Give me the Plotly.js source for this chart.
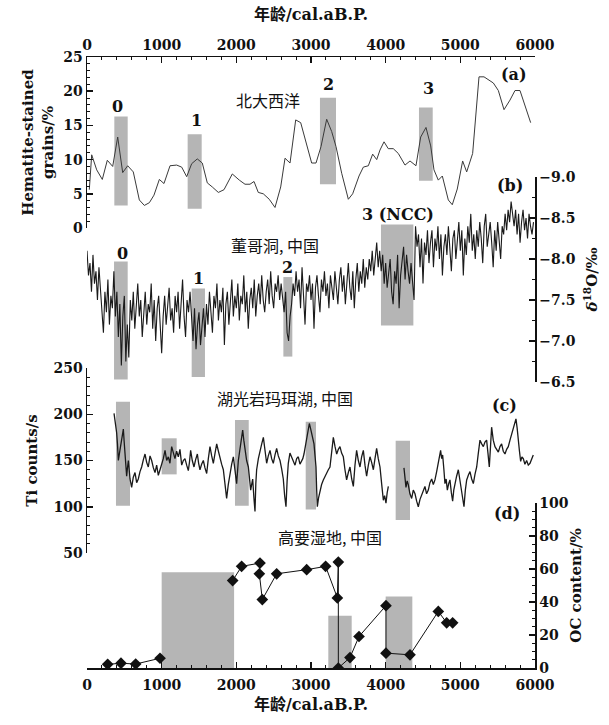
<!DOCTYPE html>
<html><head><meta charset="utf-8">
<script src="https://cdn.plot.ly/plotly-3.0.1.min.js"></script>
<style>html,body{margin:0;padding:0;background:#fff;}#chart{width:609px;height:725px;}</style>
</head><body><div id="chart"></div>
<script>
// ---------- DATA ----------
// (a) North Atlantic hematite-stained grains (%)
const a_age = [31,63,130,205,272,344,411,478,545,620,701,768,835,897,969,1031,1112,1201,1268,1335,1402,1477,1544,1611,1678,1759,1835,1946,2040,2116,2183,2237,2294,2361,2441,2518,2594,2652,2719,2795,2862,2933,3009,3067,3134,3210,3277,3335,3411,3500,3558,3643,3701,3768,3826,3880,3924,3978,4035,4102,4169,4259,4326,4406,4469,4540,4603,4647,4705,4759,4804,4839,4892,4959,5031,5085,5165,5196,5250,5317,5442,5509,5585,5665,5732,5799,5866,5942];
const a_val = [5.6,10.7,8.5,7.1,9.9,9.0,13.3,8.1,9.1,8.2,4.1,3.3,3.7,4.8,7.1,6.5,9.1,9.2,8.9,7.5,9.4,10.1,9.5,6.6,6.0,5.2,5.6,7.9,7.0,6.4,6.4,6.8,5.2,5.0,4.2,3.0,6.0,10.2,9.5,15.8,15.4,12.4,9.5,9.5,11.9,15.9,14.1,11.9,8.0,4.2,5.0,7.6,8.9,9.1,10.8,10.0,11.4,12.6,11.6,11.6,10.9,9.2,9.8,9.1,13.3,14.7,12.0,8.5,7.0,7.6,5.6,4.1,3.4,5.7,9.8,8.2,10.9,15.3,22.1,22.1,21.2,20.1,17.3,18.7,20.1,20.1,18.0,15.4];

// (b) Dongge Cave d18O (per mil)
const b_age = [
0,20,40,60,80,100,120,140,160,180,
200,220,240,260,280,300,320,340,360,380,
400,420,440,460,480,500,520,540,560,580,
600,620,640,660,680,700,720,740,760,780,
800,820,840,860,880,900,920,940,960,980,
1000,1020,1040,1060,1080,1100,1120,1140,1160,1180,
1200,1220,1240,1260,1280,1300,1320,1340,1360,1380,
1400,1420,1440,1460,1480,1500,1520,1540,1560,1580,
1600,1620,1640,1660,1680,1700,1720,1740,1760,1780,
1800,1820,1840,1860,1880,1900,1920,1940,1960,1980,
2000,2020,2040,2060,2080,2100,2120,2140,2160,2180,
2200,2220,2240,2260,2280,2300,2320,2340,2360,2380,
2400,2420,2440,2460,2480,2500,2520,2540,2560,2580,
2600,2620,2640,2660,2680,2700,2720,2740,2760,2780,
2800,2820,2840,2860,2880,2900,2920,2940,2960,2980,
3000,3020,3040,3060,3080,3100,3120,3140,3160,3180,
3200,3220,3240,3260,3280,3300,3320,3340,3360,3380,
3400,3420,3440,3460,3480,3500,3520,3540,3560,3580,
3600,3620,3640,3660,3680,3700,3720,3740,3760,3780,
3800,3820,3840,3860,3880,3900,3920,3940,3960,3980,
4000,4020,4040,4060,4080,4100,4120,4140,4160,4180,
4200,4220,4240,4260,4280,4300,4320,4340,4360,4380,
4400,4420,4440,4460,4480,4500,4520,4540,4560,4580,
4600,4620,4640,4660,4680,4700,4720,4740,4760,4780,
4800,4820,4840,4860,4880,4900,4920,4940,4960,4980,
5000,5020,5040,5060,5080,5100,5120,5140,5160,5180,
5200,5220,5240,5260,5280,5300,5320,5340,5360,5380,
5400,5420,5440,5460,5480,5500,5520,5540,5560,5580,
5600,5620,5640,5660,5680,5700,5720,5740,5760,5780,
5800,5820,5840,5860,5880,5900,5920,5940,5960,5980];
const b_val = [
-8.10,-7.80,-7.95,-7.60,-8.05,-7.70,-7.85,-7.50,-7.90,-7.65,
-7.45,-7.10,-7.60,-7.35,-7.75,-7.20,-7.55,-7.40,-7.85,-7.30,
-7.60,-7.05,-7.45,-6.70,-7.30,-7.55,-6.75,-7.20,-6.80,-7.50,
-7.25,-7.60,-7.15,-7.45,-7.70,-7.30,-7.50,-7.05,-7.40,-7.60,
-7.20,-7.45,-7.35,-7.70,-7.15,-7.50,-7.00,-7.40,-7.55,-7.25,
-6.85,-7.30,-7.55,-7.20,-7.45,-7.65,-7.25,-7.40,-7.10,-7.55,
-7.35,-7.60,-7.15,-7.45,-7.75,-7.30,-7.05,-7.50,-7.35,-7.60,
-7.25,-7.00,-7.40,-6.90,-7.20,-7.35,-6.95,-7.15,-7.40,-7.05,
-7.45,-7.20,-7.60,-7.35,-7.10,-7.55,-7.40,-7.70,-7.25,-7.50,
-7.35,-7.65,-6.95,-7.45,-7.60,-7.20,-7.50,-7.75,-7.30,-7.55,
-7.40,-7.70,-7.25,-7.55,-7.45,-7.80,-7.35,-7.60,-7.15,-7.50,
-7.65,-7.40,-7.75,-7.30,-7.55,-7.70,-7.45,-7.80,-7.50,-7.35,
-7.60,-7.75,-7.45,-7.85,-7.55,-7.40,-7.70,-7.60,-7.80,-7.50,
-7.70,-7.55,-7.35,-7.60,-7.10,-7.00,-7.30,-7.45,-7.70,-7.55,
-7.85,-7.60,-7.75,-7.40,-7.90,-7.55,-7.20,-7.70,-7.60,-7.80,
-7.50,-7.70,-7.15,-7.65,-7.80,-7.55,-7.35,-7.75,-7.60,-7.85,
-7.55,-7.70,-7.40,-7.80,-7.65,-7.50,-7.85,-7.60,-7.45,-7.75,
-7.90,-7.60,-7.80,-7.45,-7.70,-7.95,-7.65,-7.50,-7.85,-7.40,
-7.75,-7.95,-7.60,-7.85,-7.70,-8.00,-7.65,-7.90,-7.75,-8.00,
-7.85,-8.10,-7.80,-8.05,-8.20,-7.90,-8.10,-7.85,-8.05,-7.70,
-7.95,-7.65,-7.85,-8.00,-7.60,-7.45,-7.85,-7.70,-8.05,-7.40,
-7.80,-7.95,-8.15,-7.75,-8.05,-7.85,-7.70,-7.95,-7.65,-7.50,
-8.40,-8.15,-8.30,-7.90,-8.25,-7.70,-8.20,-8.05,-8.35,-7.95,
-8.20,-8.35,-7.90,-8.25,-8.10,-8.40,-8.00,-8.30,-7.80,-8.15,
-8.30,-8.05,-8.40,-8.15,-7.85,-8.25,-8.35,-8.00,-8.20,-8.45,
-8.10,-8.35,-7.80,-8.25,-8.05,-8.40,-8.20,-8.55,-8.10,-8.30,
-8.00,-8.35,-8.15,-8.45,-8.25,-7.95,-8.40,-8.55,-8.15,-8.30,
-8.45,-8.20,-7.90,-8.35,-8.10,-8.45,-8.25,-8.00,-8.40,-8.30,
-8.55,-8.35,-8.60,-8.45,-8.70,-8.55,-8.40,-8.60,-8.30,-8.55,
-8.20,-8.45,-8.60,-8.35,-8.50,-8.25,-8.55,-8.40,-8.30,-8.45];

// (c) Huguangyan Maar Lake Ti counts/s (null = gap in record)
const c_age = [
362,380,397,408,420,435,451,470,487,498,
509,520,531,542,554,576,598,620,643,665,
687,710,732,755,777,799,821,844,866,889,
911,933,955,978,1000,1022,1045,1067,1089,1111,
1134,1156,1178,1200,1223,1245,1268,1290,1312,1335,
1357,1372,1388,1410,1433,1455,1478,1495,1513,1535,
1558,1580,1603,1625,1647,1670,1692,1715,1737,1760,
1781,1803,1826,1848,1870,1892,1915,1938,1960,1982,
2004,2027,2049,2067,2085,2100,2116,2138,2161,2176,
2192,2205,2219,2235,2250,2261,2272,2295,2317,2340,
2362,2384,2406,2428,2451,2473,2495,2518,2540,2562,
2585,2607,2629,2647,2665,2680,2696,2718,2741,2763,
2786,2808,2830,2852,2875,2890,2906,2924,2942,2960,
2978,2993,3009,3025,3040,3054,3067,3076,3085,3102,
3120,3142,3165,3187,3210,3232,3254,3277,3299,3322,
3344,3366,3388,3410,3433,3455,3477,3500,3522,3545,
3567,3589,3611,3634,3656,3678,3701,3723,3745,3768,
3790,3812,3835,3857,3879,3901,3924,3946,3969,3986,
4004,4020,4036,null,4245,4258,4272,4288,4303,4325,
4348,4370,4393,4415,4437,4460,4482,4504,4526,4548,
4571,4593,4616,4638,4660,4683,4705,4720,4736,4750,
4763,4780,4794,4810,4826,4844,4861,4880,4897,4912,
4928,4950,4973,4995,5018,5034,5049,5067,5085,5107,
5129,5152,5174,5196,5219,5241,5263,5286,5308,5330,
5352,5370,5388,5404,5419,5441,5464,5486,5509,5531,
5553,5575,5598,5620,5642,5665,5687,5703,5718,5732,
5745,5761,5777,5792,5808,5825,5843,5865,5888,5910,
5933,5955,5977];
const c_val = [
201,192,180,168,150,158,165,176,184,170,
160,145,133,142,150,130,121,132,137,126,
130,138,143,151,157,148,143,155,150,142,
137,145,134,140,145,152,161,150,154,147,
165,158,152,160,154,162,145,150,152,145,
139,148,161,150,143,151,157,147,140,146,
150,142,136,152,165,155,147,158,168,160,
152,146,140,125,109,124,136,146,154,140,
125,150,165,176,183,172,161,150,143,128,
118,124,130,110,95,125,140,152,161,168,
175,160,147,155,161,152,147,156,163,155,
150,141,130,112,100,128,147,158,154,150,
145,152,154,146,149,152,157,165,175,184,
190,185,179,174,168,155,143,118,100,110,
118,124,129,133,136,140,143,160,175,165,
157,162,165,158,154,140,129,137,143,130,
122,145,161,150,143,154,161,145,133,145,
154,148,140,152,163,152,143,125,107,112,
104,115,122,null,142,130,121,128,124,114,
109,118,114,106,100,108,113,119,122,114,
118,126,130,124,129,138,147,155,161,152,
156,140,125,130,118,125,129,115,106,118,
125,133,140,128,118,110,100,118,129,134,
138,130,125,135,143,158,172,168,165,170,
172,158,143,165,186,172,165,162,159,165,
168,160,157,162,165,172,179,184,188,191,
195,185,175,160,149,154,152,146,150,145,
147,152,156];

// (d) Gaoyao wetland OC content (%)
const d_age = [277,455,652,978,null,1951,2071,2317,2308,2348,2540,2942,3196,3353,3366,3366,3522,3643,4004,4004,4326,4705,4817,4897];
const d_val = [2.2,2.9,2.4,5.9,null,53,61.6,63.6,57.1,41.5,57.1,59.6,61.6,42.5,64.2,0,6.3,19.1,37.8,9.0,8.0,34.3,27.4,27.4];

// event bands (age start/end, value low/high)
const bandA_x0 = [366,1348,3120,4446], bandA_x1 = [545,1536,3335,4630], bandA_lo = [3.3,2.8,6.4,6.9], bandA_hi = [16.3,13.7,19.05,17.6];
const bandB_x0 = [362,1402,2630,3937], bandB_x1 = [545,1580,2750,4371], bandB_lo = [-6.53,-6.56,-6.81,-7.19], bandB_hi = [-7.97,-7.64,-7.78,-8.42];
const bandC_x0 = [388,1000,1982,2929,4134], bandC_x1 = [576,1201,2166,3067,4326], bandC_lo = [101,135,101,97,85.6], bandC_hi = [213.6,174,193.8,192,171.4];
const bandD_x0 = [1000,3232,4000], bandD_x1 = [1970,3545,4357], bandD_lo = [0,0,0], bandD_hi = [58,31.7,43.3];

// text
const eventLabelsA = ['0','1','2','3'];
const eventLabelsB = ['0','1','2','3 (NCC)'];
const regionNames = ['北大西洋','董哥洞, 中国','湖光岩玛珥湖, 中国','高要湿地, 中国'];
const panelTags = ['(a)','(b)','(c)','(d)'];
const xTitle = '年龄/cal.aB.P.';
const xTicks = [0,1000,2000,3000,4000,5000,6000];

// ---------- LAYOUT HELPERS ----------
const W = 609, H = 725, L = 87, R = 535, T = 57, B = 668;
const px = v => (v - L) / (R - L);
const py = v => (B - v) / (B - T);
const SERIF = 'DejaVu Serif, Noto Sans CJK SC, serif';
const CJK = 'Noto Sans CJK SC, DejaVu Serif, sans-serif';
const INK = '#111';

const axBase = {
  showline: true, linecolor: INK, linewidth: 1.5, ticks: 'inside', ticklen: 6, tickwidth: 1.5, tickcolor: INK,
  showgrid: false, zeroline: false, fixedrange: true,
  tickfont: {family: SERIF, size: 14, color: INK, weight: 'bold'},
  title: {font: {family: SERIF, size: 15, color: INK, weight: 'bold'}}
};
function ax(extra, minorDtick) {
  const o = JSON.parse(JSON.stringify(axBase));
  Object.assign(o, extra);
  o.title = Object.assign({}, axBase.title, extra.title || {});
  o.minor = {ticks: 'inside', ticklen: 3, tickwidth: 1, tickcolor: INK, dtick: minorDtick, showgrid: false};
  return o;
}

// ---------- TRACES ----------
const traces = [
  {x: a_age, y: a_val, xaxis: 'x2', yaxis: 'y', type: 'scatter', mode: 'lines', line: {color: '#3a3a3a', width: 1}, hoverinfo: 'skip'},
  {x: b_age, y: b_val, xaxis: 'x', yaxis: 'y2', type: 'scatter', mode: 'lines', line: {color: '#1a1a1a', width: 1.1}, hoverinfo: 'skip'},
  {x: c_age, y: c_val, xaxis: 'x', yaxis: 'y3', type: 'scatter', mode: 'lines', line: {color: '#1a1a1a', width: 1.3}, connectgaps: false, hoverinfo: 'skip'},
  {x: d_age, y: d_val, xaxis: 'x', yaxis: 'y4', type: 'scatter', mode: 'lines+markers', line: {color: INK, width: 1}, marker: {symbol: 'diamond', size: 9, color: INK}, connectgaps: false, hoverinfo: 'skip'}
];

// ---------- SHAPES (bands) ----------
const shapes = [];
function addBands(x0s, x1s, los, his, xref, yref) {
  for (let i = 0; i < x0s.length; i++) {
    shapes.push({type: 'rect', xref: xref, yref: yref, x0: x0s[i], x1: x1s[i], y0: los[i], y1: his[i],
      fillcolor: '#b5b5b5', line: {width: 0}, layer: 'below'});
  }
}
addBands(bandA_x0, bandA_x1, bandA_lo, bandA_hi, 'x2', 'y');
addBands(bandB_x0, bandB_x1, bandB_lo, bandB_hi, 'x', 'y2');
addBands(bandC_x0, bandC_x1, bandC_lo, bandC_hi, 'x', 'y3');
addBands(bandD_x0, bandD_x1, bandD_lo, bandD_hi, 'x', 'y4');

// ---------- ANNOTATIONS ----------
const annotations = [];
function note(text, x, y, font) {
  annotations.push({text: text, xref: 'paper', yref: 'paper', x: px(x), y: py(y), xanchor: 'center', yanchor: 'middle', showarrow: false, font: font});
}
const numFont = {family: SERIF, size: 16, color: INK, weight: 'bold'};
const cjkFont = {family: CJK, size: 16, color: INK};
const tagFont = {family: SERIF, size: 16, color: INK, weight: 'bold'};
const posA = [[117,107],[196,120],[328,84],[428,89]];
eventLabelsA.forEach((t, i) => note(t, posA[i][0], posA[i][1], numFont));
const posB = [[122,253],[198,278],[287,267],[398,214]];
eventLabelsB.forEach((t, i) => note(t, posB[i][0], posB[i][1], numFont));
const posR = [[268,100],[275,245],[285,398],[330,537]];
regionNames.forEach((t, i) => note(t, posR[i][0], posR[i][1], cjkFont));
const posT = [[514,75],[510,185],[504,405],[507,513]];
panelTags.forEach((t, i) => note(t, posT[i][0], posT[i][1], tagFont));

// ---------- LAYOUT ----------
const layout = {
  width: W, height: H,
  margin: {l: L, r: W - R, t: T, b: H - B, pad: 0},
  paper_bgcolor: '#ffffff', plot_bgcolor: 'rgba(0,0,0,0)',
  showlegend: false,
  font: {family: SERIF, color: INK},
  xaxis: ax({domain: [0, 1], range: [0, 6000], anchor: 'y4', side: 'bottom', tickvals: xTicks, ticktext: xTicks.map(String), ticklabelstandoff: 4,
    title: {text: xTitle, standoff: 6, font: {family: SERIF, size: 16, color: INK, weight: 'bold'}}}, 200),
  xaxis2: ax({domain: [0, 1], range: [0, 6000], anchor: 'y', side: 'top', tickvals: xTicks, ticktext: xTicks.map(String),
    title: {text: xTitle, standoff: 12, font: {family: SERIF, size: 16, color: INK, weight: 'bold'}}}, 200),
  yaxis: ax({domain: [py(228), py(57)], range: [0, 25], anchor: 'x2', side: 'left', dtick: 5,
    title: {text: 'Hematite-stained<br>grains/%', standoff: 6}}, 1),
  yaxis2: ax({domain: [py(382), py(177)], range: [-6.5, -9.0], anchor: 'x', side: 'right', dtick: 0.5, tickformat: '.1f',
    title: {text: '<i>δ</i><sup>18</sup>O/‰', standoff: 12}}, 0.25),
  yaxis3: ax({domain: [py(553), py(368)], range: [50, 250], anchor: 'x', side: 'left', dtick: 50,
    title: {text: 'Ti counts/s', standoff: 12}}, 10),
  yaxis4: ax({domain: [py(668), py(503)], range: [0, 100], anchor: 'x', side: 'right', dtick: 20,
    title: {text: 'OC content/%', standoff: 2}}, 5),
  shapes: shapes,
  annotations: annotations
};

Plotly.newPlot('chart', traces, layout, {displayModeBar: false, staticPlot: true});
</script>
</body></html>
